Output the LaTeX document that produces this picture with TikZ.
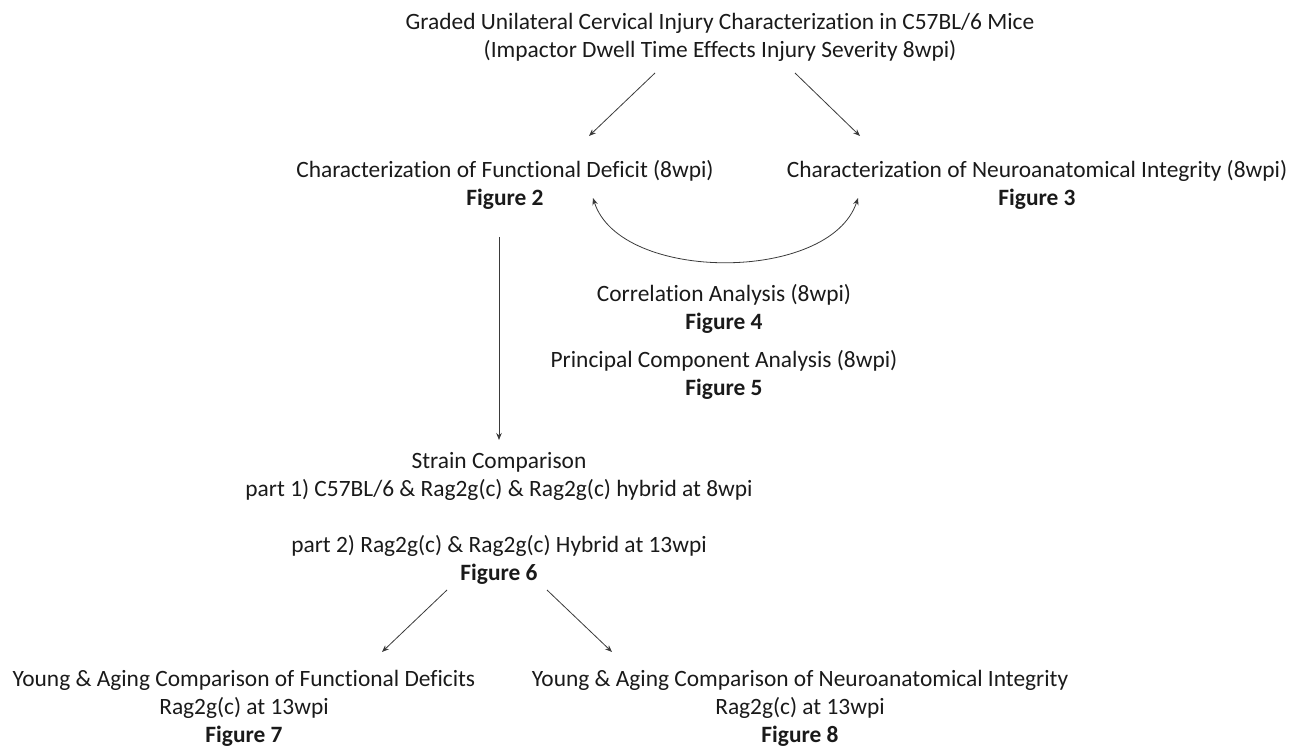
\documentclass[tikz,border=0pt]{standalone}
\usepackage{fontspec}
\setmainfont{Carlito}[Ligatures=NoCommon]
\usetikzlibrary{arrows.meta}
\definecolor{txt}{HTML}{1A1A1A}
\definecolor{ln}{HTML}{3A3A3A}
\begin{document}
\begin{tikzpicture}[x=1pt,y=-1pt,
  lbl/.style={inner sep=0pt,align=center,text=txt,font=\fontsize{23.4}{28}\selectfont},
  arr/.style={draw=ln,line width=0.8pt,-{Stealth[length=7pt,width=5.5pt]}},
  darr/.style={draw=ln,line width=0.8pt,{Stealth[length=7pt,width=5.5pt]}-{Stealth[length=7pt,width=5.5pt]}}]
\useasboundingbox (0,0) rectangle (1302,746);
\node[lbl] (title) at (720,37) {Graded Unilateral Cervical Injury Characterization in C57BL/6 Mice\\(Impactor Dwell Time Effects Injury Severity 8wpi)};
\node[lbl] (fd) at (505,185) {Characterization of Functional Deficit (8wpi)\\\textbf{Figure 2}};
\node[lbl] (ni) at (1037,185) {Characterization of Neuroanatomical Integrity (8wpi)\\\textbf{Figure 3}};
\node[lbl] (corr) at (724,309) {Correlation Analysis (8wpi)\\\textbf{Figure 4}};
\node[lbl] (pca) at (724,375) {Principal Component Analysis (8wpi)\\\textbf{Figure 5}};
\node[lbl] (strain) at (499,518.5) {Strain Comparison\\part 1) C57BL/6 \& Rag2g(c) \& Rag2g(c) hybrid at 8wpi\\[28pt]part 2) Rag2g(c) \& Rag2g(c) Hybrid at 13wpi\\\textbf{Figure 6}};
\node[lbl] (yfd) at (244,708) {Young \& Aging Comparison of Functional Deficits\\Rag2g(c) at 13wpi\\\textbf{Figure 7}};
\node[lbl] (yni) at (800,708) {Young \& Aging Comparison of Neuroanatomical Integrity\\Rag2g(c) at 13wpi\\\textbf{Figure 8}};
\draw[arr] ([shift={(-65,36)}]title.center) -- ([shift={(84,-49)}]fd.center);
\draw[arr] ([shift={(75,36)}]title.center) -- ([shift={(-177,-49)}]ni.center);
\draw[darr] ([shift={(88,13)}]fd.center) .. controls ([shift={(115,98)}]fd.center) and ([shift={(-207,98)}]ni.center) .. ([shift={(-179,13)}]ni.center);
\draw[arr] ([shift={(-6,52)}]fd.center) -- ([shift={(0,-78.5)}]strain.center);
\draw[arr] ([shift={(-52,71.5)}]strain.center) -- ([shift={(138,-56)}]yfd.center);
\draw[arr] ([shift={(48,71.5)}]strain.center) -- ([shift={(-188,-56)}]yni.center);
\end{tikzpicture}
\end{document}
